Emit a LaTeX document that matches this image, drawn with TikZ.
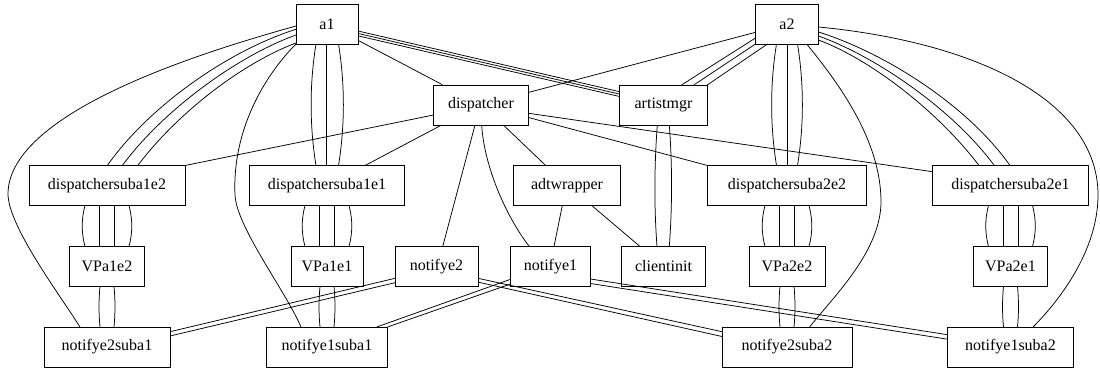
\documentclass[tikz,border=0pt]{standalone}
\usepackage{fontspec}
\setmainfont{Liberation Serif}
\usetikzlibrary{calc}
\begin{document}
\begin{tikzpicture}[x=1pt,y=-1pt,
  box/.style={draw, rectangle, line width=0.8pt, minimum height=40pt, inner sep=0pt,
              font=\fontsize{16}{19}\selectfont},
  link/.style={line width=0.75pt}]
\useasboundingbox (0,0) rectangle (1100,372);

% ---- nodes ----
\node[box, minimum width=62pt]  (a1)         at (327,24)    {a1};
\node[box, minimum width=63pt]  (a2)         at (787,24)    {a2};
\node[box, minimum width=95pt]  (dispatcher) at (481,105)   {dispatcher};
\node[box, minimum width=88pt]  (artistmgr)  at (663.5,105) {artistmgr};
\node[box, minimum width=156pt] (dA1e2)      at (107,185.5) {dispatchersuba1e2};
\node[box, minimum width=155pt] (dA1e1)      at (327,185.5) {dispatchersuba1e1};
\node[box, minimum width=107pt] (adtwrapper) at (567,185.5) {adtwrapper};
\node[box, minimum width=159pt] (dA2e2)      at (787,185.5) {dispatchersuba2e2};
\node[box, minimum width=156pt] (dA2e1)      at (1010.5,185.5) {dispatchersuba2e1};
\node[box, minimum width=75pt]  (VPa1e2)     at (107,266.5) {VPa1e2};
\node[box, minimum width=72pt]  (VPa1e1)     at (327,266.5) {VPa1e1};
\node[box, minimum width=83pt]  (notifye2)   at (436.5,266.5) {notifye2};
\node[box, minimum width=80pt]  (notifye1)   at (550.5,266.5) {notifye1};
\node[box, minimum width=84pt]  (clientinit) at (663.5,266.5) {clientinit};
\node[box, minimum width=76pt]  (VPa2e2)     at (787,266.5) {VPa2e2};
\node[box, minimum width=74pt]  (VPa2e1)     at (1010.5,266.5) {VPa2e1};
\node[box, minimum width=126pt] (n2s1)       at (107,347)   {notifye2suba1};
\node[box, minimum width=121pt] (n1s1)       at (327,347)   {notifye1suba1};
\node[box, minimum width=130pt] (n2s2)       at (787,347)   {notifye2suba2};
\node[box, minimum width=126pt] (n1s2)       at (1010.5,347) {notifye1suba2};

% ---- a1 ----
\draw[link] ($(a1)+(-31,5.3)$) .. controls +(-66,20.7) and +(42.7,-60.5) .. ($(dA1e2)+(0.3,-20)$);
\draw[link] ($(a1)+(-31,11)$)  .. controls +(-56,20) and +(42.7,-57.5) .. ($(dA1e2)+(15.3,-20)$);
\draw[link] ($(a1)+(-31,19)$)  .. controls +(-51,19) and +(42.3,-55.5) .. ($(dA1e2)+(30.7,-20)$);
\draw[link] ($(a1)+(-31,2)$) .. controls +(-86,24) and +(2,-83) .. (8,193)
            .. controls +(-0.8,32) and +(-20,-32) .. ($(n2s1)+(-27,-20)$);
\draw[link] ($(a1)+(-31,20)$) .. controls +(-31,31) and +(-3,-65) .. (235,195)
            .. controls +(1.5,32) and +(-16,-37) .. ($(n1s1)+(-26,-20)$);
\draw[link] ($(a1)+(-0.5,20)$) -- ($(dA1e1)+(-0.5,-20)$);
\draw[link] ($(a1)+(-11,20)$) .. controls +(-6.5,40) and +(-6.5,-40) .. ($(dA1e1)+(-11,-20)$);
\draw[link] ($(a1)+(11.5,20)$) .. controls +(6.5,40) and +(6.5,-40) .. ($(dA1e1)+(11.5,-20)$);
\draw[link] (a1) -- (dispatcher);
\draw[link] ($(a1)+(31,7)$)    -- ($(artistmgr)+(-44,-13.3)$);
\draw[link] ($(a1)+(31,9.4)$)  -- ($(artistmgr)+(-44,-10.9)$);
\draw[link] ($(a1)+(31,11.8)$) -- ($(artistmgr)+(-44,-8.5)$);

% ---- a2 ----
\draw[link] (a2) -- (dispatcher);
\draw[link] ($(a2)+(-31.5,14)$) -- ($(artistmgr)+(18,-20)$);
\draw[link] ($(a2)+(-31.5,20)$) -- ($(artistmgr)+(30.3,-20)$);
\draw[link] ($(a2)+(-19.5,20)$) -- ($(artistmgr)+(43,-19.5)$);
\draw[link] ($(a2)+(0,20)$) -- ($(dA2e2)+(0,-20)$);
\draw[link] ($(a2)+(-10.5,20)$) .. controls +(-6.5,40) and +(-6.5,-40) .. ($(dA2e2)+(-10.5,-20)$);
\draw[link] ($(a2)+(10.5,20)$) .. controls +(6.5,40) and +(6.5,-40) .. ($(dA2e2)+(10.5,-20)$);
\draw[link] ($(a2)+(19.7,20)$) .. controls +(33.3,41) and +(-1,-60) .. (881,200)
            .. controls +(0.8,50) and +(25.4,-32) .. ($(n2s2)+(22.6,-20)$);
\draw[link] ($(a2)+(31.5,16)$) .. controls +(51,19) and +(-42.3,-55.5) .. ($(dA2e1)+(-31.5,-20)$);
\draw[link] ($(a2)+(31.5,12)$) .. controls +(56,20) and +(-42.7,-57.5) .. ($(dA2e1)+(-16.2,-20)$);
\draw[link] ($(a2)+(31.5,8)$)  .. controls +(66,20.7) and +(-42.7,-60.5) .. ($(dA2e1)+(-0.5,-20)$);
\draw[link] ($(a2)+(31.5,3)$) .. controls +(156.5,15) and +(0,-95) .. (1098,195)
            .. controls +(0,55) and +(27,-27) .. ($(n1s2)+(22.5,-20)$);

% ---- dispatcher ----
\draw[link] ($(dispatcher)+(-47.5,10)$) -- ($(dA1e2)+(78,-20)$);
\draw[link] ($(dispatcher)+(-39.3,20)$) -- ($(dA1e1)+(38,-20)$);
\draw[link] ($(dispatcher)+(-6,20)$) -- ($(notifye2)+(6.2,-20)$);
\draw[link] ($(dispatcher)+(0.7,20)$) .. controls +(2.3,40) and +(-24.3,-31.5) .. ($(notifye1)+(-21.2,-20)$);
\draw[link] ($(dispatcher)+(22.3,20)$) -- ($(adtwrapper)+(-21.3,-20)$);
\draw[link] ($(dispatcher)+(47.5,12.5)$) -- ($(dA2e2)+(-79.5,-20)$);
\draw[link] ($(dispatcher)+(47.5,8.3)$) -- ($(dA2e1)+(-78,-13.8)$);

% ---- adtwrapper / artistmgr ----
\draw[link] ($(adtwrapper)+(-4.7,20)$) -- ($(notifye1)+(3.5,-20)$);
\draw[link] ($(adtwrapper)+(24.7,20)$) -- ($(clientinit)+(-23.5,-20)$);
\draw[link] ($(artistmgr)+(-6.2,20)$) .. controls +(-3,40) and +(-3,-40) .. ($(clientinit)+(-6.5,-20)$);
\draw[link] ($(artistmgr)+(5.8,20)$) .. controls +(3,40) and +(3,-40) .. ($(clientinit)+(5.8,-20)$);

% ---- dispatcher sub-nodes down to the notify sub-nodes ----
\foreach \u/\v/\w in {dA1e2/VPa1e2/n2s1, dA1e1/VPa1e1/n1s1, dA2e2/VPa2e2/n2s2, dA2e1/VPa2e1/n1s2} {
  \draw[link] ($(\u)+(-22,20)$) .. controls +(-3.7,14) and +(-3.7,-14) .. ($(\v)+(-22,-20)$);
  \draw[link] ($(\u)+(-7.5,20)$) -- ($(\v)+(-7.5,-20)$);
  \draw[link] ($(\u)+(7.5,20)$) -- ($(\v)+(7.5,-20)$);
  \draw[link] ($(\u)+(22,20)$) .. controls +(3.7,14) and +(3.7,-14) .. ($(\v)+(22,-20)$);
  \draw[link] ($(\v)+(-7,20)$) .. controls +(-1.3,13) and +(-1.3,-13) .. ($(\w)+(-7,-20)$);
  \draw[link] ($(\v)+(7,20)$) .. controls +(1.3,13) and +(1.3,-13) .. ($(\w)+(7,-20)$);
}

% ---- notify nodes to their sub-nodes ----
\draw[link] ($(notifye2)+(-41.5,11.8)$) -- ($(n2s1)+(63,-15.3)$);
\draw[link] ($(notifye2)+(-41.5,16.2)$) -- ($(n2s1)+(63,-11)$);
\draw[link] ($(notifye2)+(41.5,11.8)$) -- ($(n2s2)+(-65,-15.3)$);
\draw[link] ($(notifye2)+(41.5,15.6)$) -- ($(n2s2)+(-65,-10.5)$);
\draw[link] ($(notifye1)+(-40,12.8)$) -- ($(n1s1)+(49.7,-20)$);
\draw[link] ($(notifye1)+(-40,17.5)$) -- ($(n1s1)+(60.5,-20)$);
\draw[link] ($(notifye1)+(40,12.5)$) -- ($(n1s2)+(-63,-12.3)$);
\draw[link] ($(notifye1)+(40,17)$) -- ($(n1s2)+(-63,-7.8)$);
\end{tikzpicture}
\end{document}
